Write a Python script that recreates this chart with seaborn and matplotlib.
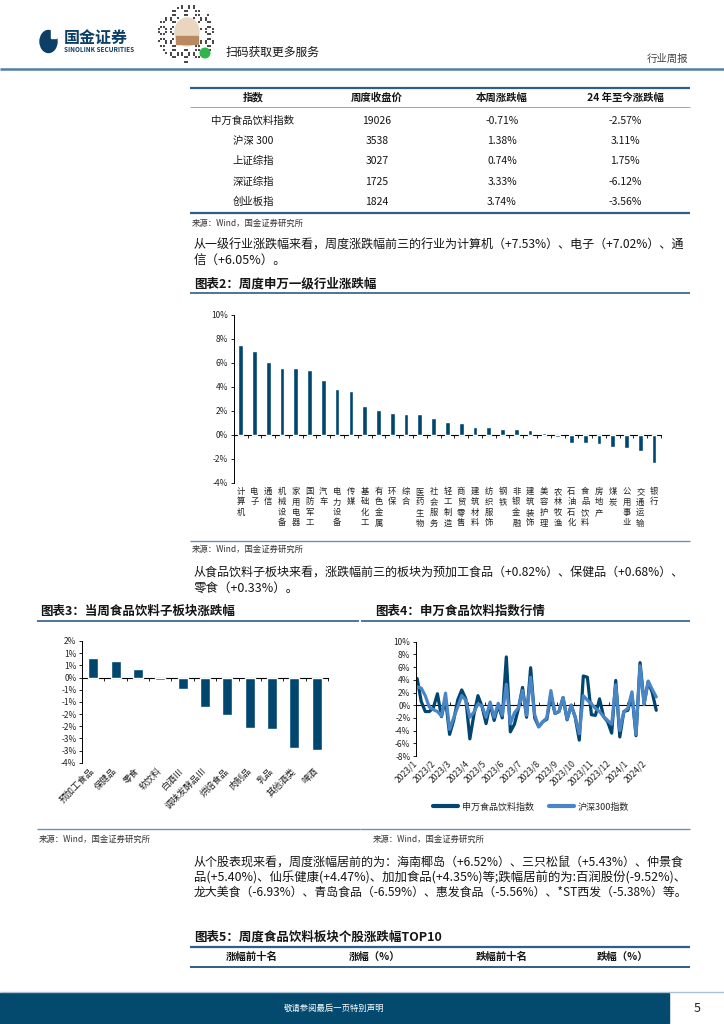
import numpy as np
import pandas as pd
import matplotlib
matplotlib.use('Agg')
import matplotlib.pyplot as plt
import matplotlib.dates as mdates
from matplotlib.patches import Rectangle, Ellipse, Circle
from matplotlib.lines import Line2D
import seaborn as sns

# ---------------- data ----------------
table_header = ['指数', '周度收盘价', '本周涨跌幅', '24 年至今涨跌幅']
index_names = ['中万食品饮料指数', '沪深 300', '上证综指', '深证综指', '创业板指']
index_close = ['19026', '3538', '3027', '1725', '1824']
index_week_chg = ['-0.71%', '1.38%', '0.74%', '3.33%', '3.74%']
index_ytd_chg = ['-2.57%', '3.11%', '1.75%', '-6.12%', '-3.56%']

industry_names = ['计算机', '电子', '通信', '机械设备', '家用电器', '国防军工', '汽车', '电力设备',
                  '传媒', '基础化工', '有色金属', '环保', '综合', '医药生物', '社会服务', '轻工制造',
                  '商贸零售', '建筑材料', '纺织服饰', '钢铁', '非银金融', '建筑装饰', '美容护理',
                  '农林牧渔', '石油石化', '食品饮料', '房地产', '煤炭', '公用事业', '交通运输', '银行']
industry_chg = [7.53, 7.02, 6.05, 5.58, 5.55, 5.44, 4.56, 3.85, 3.68, 2.42, 2.09, 1.79, 1.76,
                1.76, 1.37, 1.04, 0.96, 0.69, 0.69, 0.52, 0.47, 0.38, 0.19, -0.22, -0.66, -0.71,
                -0.77, -1.04, -1.10, -1.35, -2.36]
industry_yticks = [-4, -2, 0, 2, 4, 6, 8, 10]
industry_ylabels = ['-4%', '-2%', '0%', '2%', '4%', '6%', '8%', '10%']

sub_names = ['预加工食品', '保健品', '零食', '软饮料', '白酒Ⅲ', '调味发酵品Ⅲ', '烘焙食品',
             '肉制品', '乳品', '其他酒类', '啤酒']
sub_chg = [0.82, 0.68, 0.33, -0.11, -0.47, -1.20, -1.52, -2.08, -2.11, -2.90, -2.99]
sub_yticks = [1.5, 1.0, 0.5, 0.0, -0.5, -1.0, -1.5, -2.0, -2.5, -3.0, -3.5]
sub_ylabels = ['2%', '1%', '1%', '0%', '-1%', '-1%', '-2%', '-2%', '-3%', '-3%', '-4%']

week_dates = pd.date_range('2023-01-03', periods=60, freq='7D')
food_weekly = [4.2, 0.6, -1.0, -1.0, -0.4, 1.8, -1.8, 1.0, -4.6, -2.4,
               0.8, 2.4, 1.0, -5.3, -1.5, 1.5, -0.2, -2.9, 0.2, -2.4,
               0.0, -2.0, 7.6, -4.2, -3.0, -0.5, 2.8, -1.9, 5.9, -2.0,
               -3.4, -2.6, -2.2, 1.6, -1.3, -1.0, 1.2, -2.3, 0.0, -1.9,
               -5.5, 4.6, 4.4, -1.5, -1.6, 1.0, -1.8, -2.6, -4.4, 3.9,
               -5.0, -1.0, -0.8, 1.7, -4.8, 6.7, 0.3, 3.7, 2.0, -0.8]
hs300_weekly = [2.9, 2.7, 1.5, -0.3, -0.7, -1.0, -1.7, 1.9, -3.8, -2.0,
                -0.3, 1.5, 0.8, -1.9, -1.1, 0.2, -0.1, -1.9, 0.5, -1.9,
                0.3, -1.6, 3.3, -2.9, -1.2, -0.4, 2.3, -1.6, 4.4, -1.5,
                -3.4, -2.6, -2.0, 2.3, -1.3, -1.0, 1.2, -2.2, 0.0, -1.8,
                -4.5, 1.5, 0.8, 0.2, -0.5, -1.0, -1.8, -2.4, -3.0, 3.2,
                -4.0, -1.0, -0.5, 2.1, -4.6, 6.2, 0.1, 3.8, 2.5, 1.3]
series_names = ['申万食品饮料指数', '沪深300指数']
month_ticks = pd.date_range('2023-01-01', '2024-02-01', freq='MS')
month_labels = ['2023/1', '2023/2', '2023/3', '2023/4', '2023/5', '2023/6', '2023/7',
                '2023/8', '2023/9', '2023/10', '2023/11', '2023/12', '2024/1', '2024/2']
line_ylim = (-8, 10)
line_yticks = [-8, -6, -4, -2, 0, 2, 4, 6, 8, 10]
line_ylabels = ['-8%', '-6%', '-4%', '-2%', '0%', '2%', '4%', '6%', '8%', '10%']

top5_header = ['涨幅前十名', '涨幅（%）', '跌幅前十名', '跌幅（%）']

para1 = ['从一级行业涨跌幅来看，周度涨跌幅前三的行业为计算机（+7.53%）、电子（+7.02%）、通',
         '信（+6.05%）。']
para2 = ['从食品饮料子板块来看，涨跌幅前三的板块为预加工食品（+0.82%）、保健品（+0.68%）、',
         '零食（+0.33%）。']
para3 = ['从个股表现来看，周度涨幅居前的为：海南椰岛（+6.52%）、三只松鼠（+5.43%）、仲景食',
         '品(+5.40%)、仙乐健康(+4.47%)、加加食品(+4.35%)等;跌幅居前的为:百润股份(-9.52%)、',
         '龙大美食（-6.93%）、青岛食品（-6.59%）、惠发食品（-5.56%）、*ST西发（-5.38%）等。']

# ---------------- style ----------------
C_DARK = '#01466f'
C_LIGHT = '#4a86c6'
C_RULE = '#2f5e88'
C_TEXT = '#151515'

sns.set_theme(style='white')
plt.rcParams['font.family'] = ['Noto Sans CJK SC', 'DejaVu Sans']
plt.rcParams['axes.unicode_minus'] = False

W, H = 724, 1024
fig = plt.figure(figsize=(W / 100, H / 100), dpi=100, facecolor='white')
renderer = fig.canvas.get_renderer()

deco = fig.add_axes([0, 0, 1, 1], zorder=0)
deco.set_xlim(0, W)
deco.set_ylim(H, 0)
deco.axis('off')


def txt(x, y, s, size=9, **kw):
    kw.setdefault('va', 'center')
    kw.setdefault('ha', 'left')
    kw.setdefault('color', C_TEXT)
    return deco.text(x, y, s, fontsize=size, **kw)


def para(x0, x1, ys, lines, size=9):
    """Body text: long lines are sized to span x0..x1 like the justified original."""
    target = x1 - x0
    for y, s in zip(ys, lines):
        t = txt(x0, y, s, size)
        w = t.get_window_extent(renderer).width
        if w > 0.8 * target:
            for _ in range(3):
                w = t.get_window_extent(renderer).width
                if w <= 0:
                    break
                t.set_fontsize(max(7.0, min(9.4, t.get_fontsize() * target / w)))


def rule(x0, x1, y, color=C_RULE, lw=1.0):
    deco.plot([x0, x1], [y, y], color=color, lw=lw, solid_capstyle='butt')


def panel(x0, y0, x1, y1):
    a = fig.add_axes([x0 / W, 1 - y1 / H, (x1 - x0) / W, (y1 - y0) / H], zorder=2)
    a.set_facecolor('none')
    return a


def style_axes(a):
    for s in ['top', 'right', 'bottom']:
        a.spines[s].set_visible(False)
    a.spines['left'].set_color('black')
    a.spines['left'].set_linewidth(0.7)
    a.tick_params(axis='y', left=True, length=2.5, width=0.6, direction='out',
                  labelsize=6, pad=1.5, color='black', labelcolor='#222')
    a.tick_params(axis='x', bottom=False, length=0, labelcolor='#222')
    a.set_xlabel('')
    a.set_ylabel('')


def zero_axis(a, loc, ticks, direction='out'):
    sec = a.secondary_xaxis(loc)
    sec.set_alignment('bottom')
    sec.set_xticks(ticks)
    sec.tick_params(axis='x', bottom=True, top=False, length=2, width=0.6,
                    direction=direction, labelbottom=False, labeltop=False, color='black')
    sec.spines['bottom'].set_color('black')
    sec.spines['bottom'].set_linewidth(0.8)
    return sec


# ---------------- header ----------------
deco.add_patch(Ellipse((48.5, 41.5), 17, 22, color='#0b3f66'))
deco.add_patch(Rectangle((50.5, 29.0), 5.5, 8.5, color='white'))
txt(64, 38, '国金证券', 11.5, weight='bold', color='#0b3f66')
txt(64, 49.5, 'SINOLINK SECURITIES', 4.6, weight='bold', color='#0b3f66')

ii, jj = np.meshgrid(np.arange(25), np.arange(25))
cx, cy, R = 187.0, 34.0, 29.0
qx = cx - R + (ii + 0.5) * (2 * R / 25)
qy = cy - R + (jj + 0.5) * (2 * R / 25)
qmask = (((qx - cx) ** 2 + (qy - cy) ** 2) < R ** 2) & (((ii * 7 + jj * 11 + ii * jj) % 5) < 2) & \
        (((qx - cx) ** 2 / 14 ** 2 + (qy - cy + 2) ** 2 / 16 ** 2) > 1)
deco.scatter(qx[qmask], qy[qmask], s=2.2, marker='s', color='#4a4a4a', linewidths=0)
deco.add_patch(Ellipse((187, 32), 24, 28, color='#ead6c0'))
deco.add_patch(Rectangle((176, 36), 22, 8, color='#b98a62'))
deco.add_patch(Circle((205, 53), 4.8, color='#2fb54a'))
txt(226, 52, '扫码获取更多服务', 8.5)
txt(688, 59, '行业周报', 7.5, ha='right', color='#444')
rule(0, W, 68.5, '#4f7fa6', 1.8)

# ---------------- table 1 ----------------
col_x = [253, 377, 502, 625]
rule(190, 690, 88, C_RULE, 1.6)
for x, h in zip(col_x, table_header):
    txt(x, 97.5, h, 7.5, ha='center', weight='bold')
rule(190, 690, 107, '#7f9bb3', 0.6)
row_y = [120.7, 141.0, 161.3, 181.6, 201.8]
for r, y in enumerate(row_y):
    cells = [index_names[r], index_close[r], index_week_chg[r], index_ytd_chg[r]]
    for x, v in zip(col_x, cells):
        txt(x, y, v, 7.5, ha='center')
rule(190, 690, 212.5, C_RULE, 1.6)
txt(192, 223, '来源：Wind，国金证券研究所', 6, color='#333')

para(194, 688, [245, 261], para1)
txt(194, 284, '图表2：周度申万一级行业涨跌幅', 9, weight='bold', style='italic')
rule(190, 690, 293, C_RULE, 1.2)

# ---------------- chart 2 ----------------
ax2 = panel(233.8, 315, 661, 482.7)
sns.barplot(x=industry_names, y=industry_chg, color=C_DARK, saturation=1, width=0.34, ax=ax2)
ax2.set_xlim(-0.5, len(industry_names) - 0.5)
ax2.set_ylim(-4, 10)
style_axes(ax2)
ax2.set_yticks(industry_yticks)
ax2.set_yticklabels(industry_ylabels)
ax2.set_xticks(range(len(industry_names)))
ax2.set_xticklabels(['\n'.join(n) for n in industry_names], fontsize=6, linespacing=1.22, va='top')
ax2.tick_params(axis='x', pad=3)
zero_axis(ax2, 4 / 14, np.arange(-0.5, len(industry_names), 1))

rule(190, 690, 540.5, '#6b93b5', 1.0)
txt(192, 549, '来源：Wind，国金证券研究所', 6, color='#333')
para(194, 688, [572, 588], para2)

# ---------------- chart 3 ----------------
txt(40, 611.5, '图表3：当周食品饮料子板块涨跌幅', 9, weight='bold', style='italic')
rule(37, 359, 621, C_RULE, 1.2)
ax3 = panel(82, 641, 328, 762.7)
sns.barplot(x=sub_names, y=sub_chg, color=C_DARK, saturation=1, width=0.45, ax=ax3)
ax3.set_xlim(-0.5, len(sub_names) - 0.5)
ax3.set_ylim(-3.5, 1.5)
style_axes(ax3)
ax3.set_yticks(sub_yticks)
ax3.set_yticklabels(sub_ylabels)
ax3.set_xticks(range(len(sub_names)))
ax3.set_xticklabels(sub_names, fontsize=6.5, rotation=45, ha='right', va='center',
                    rotation_mode='anchor')
ax3.tick_params(axis='x', pad=5)
zero_axis(ax3, 3.5 / 5, np.arange(-0.5, len(sub_names), 1))
rule(37, 360, 829, '#6b93b5', 1.0)
txt(39, 839.5, '来源：Wind，国金证券研究所', 6, color='#333')

# ---------------- chart 4 ----------------
txt(375, 611.5, '图表4：申万食品饮料指数行情', 9, weight='bold', style='italic')
rule(361, 690, 621, C_RULE, 1.2)
ax4 = panel(416, 641.7, 658, 756)
df_line = pd.DataFrame({
    'date': list(week_dates) * 2,
    'chg': food_weekly + hs300_weekly,
    'series': [series_names[0]] * len(food_weekly) + [series_names[1]] * len(hs300_weekly),
})
sns.lineplot(data=df_line, x='date', y='chg', hue='series', hue_order=series_names,
             palette=[C_DARK, C_LIGHT], linewidth=2.3, estimator=None, legend=False, ax=ax4)
for ln in ax4.get_lines():
    ln.set_solid_joinstyle('round')
    ln.set_solid_capstyle('round')
ax4.set_xlim(pd.Timestamp('2023-01-01'), pd.Timestamp('2024-02-23'))
ax4.set_ylim(*line_ylim)
style_axes(ax4)
ax4.set_yticks(line_yticks)
ax4.set_yticklabels(line_ylabels)
ax4.set_xticks(month_ticks)
ax4.set_xticklabels(month_labels, fontsize=6.2, rotation=45, ha='right', va='center',
                    rotation_mode='anchor')
ax4.tick_params(axis='x', pad=4)
zero_axis(ax4, 8 / 18, mdates.date2num(month_ticks), direction='in')

handles = [Line2D([], [], color=C_DARK, lw=3), Line2D([], [], color=C_LIGHT, lw=3)]
fig.legend(handles, series_names, loc='center', bbox_to_anchor=(531 / W, 1 - 807 / H), ncol=2,
           frameon=False, fontsize=6.5, handlelength=2.8, handletextpad=0.4, columnspacing=1.6)
rule(360, 690, 829, '#6b93b5', 1.0)
txt(373, 839.5, '来源：Wind，国金证券研究所', 6, color='#333')

# ---------------- paragraph 3 + table 5 ----------------
para(194, 688, [862.5, 877.5, 892.5], para3)

txt(194, 937, '图表5：周度食品饮料板块个股涨跌幅TOP10', 9, weight='bold', style='italic')
rule(190, 690, 947, C_RULE, 1.6)
for x, h in zip([252, 375, 502, 623], top5_header):
    txt(x, 957, h, 7.5, ha='center', weight='bold')
rule(190, 690, 966.5, C_RULE, 1.4)

# ---------------- footer ----------------
rule(0, W, 991.5, '#a9c0d3', 1.0)
deco.add_patch(Rectangle((0, 993), 669, 30, color='#034a6e'))
txt(334.5, 1008, '敬请参阅最后一页特别声明', 6, ha='center', color='white')
txt(697, 1008, '5', 9, ha='center', color='#222')

fig.savefig('out.png', dpi=100, facecolor='white')
